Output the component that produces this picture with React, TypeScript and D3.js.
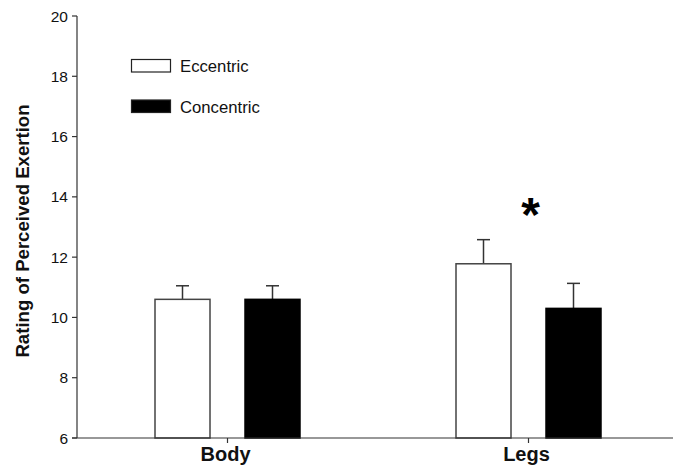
import React from "react";
import * as d3 from "d3";

const categories = ["Body", "Legs"];
const seriesNames = ["Eccentric", "Concentric"];
const eccentric = [10.6, 11.78];
const eccentricErr = [0.45, 0.8];
const concentric = [10.6, 10.3];
const concentricErr = [0.45, 0.83];
const yTicks = [6, 8, 10, 12, 14, 16, 18, 20];
const significant = [false, true];

export default function App() {
  const W = 673, H = 466;
  const left = 77, right = 673, top = 16, bottom = 438;
  const y = d3.scaleLinear().domain([6, 20]).range([bottom, top]);
  const centers = [227.5, 528.5];
  const cx = d3.scaleOrdinal<string, number>().domain(categories).range(centers);
  const barW = 55, gap = 35;
  const series = [
    { name: seriesNames[0], vals: eccentric, errs: eccentricErr, fill: "#fff", offset: -(gap / 2 + barW) },
    { name: seriesNames[1], vals: concentric, errs: concentricErr, fill: "#000", offset: gap / 2 },
  ];
  const font = "'Liberation Sans', Arial, sans-serif";
  return (
    <svg width={W} height={H} style={{ position: "absolute", left: 0, top: 0, background: "#fff" }} fontFamily={font}>
      {series.map((s, si) =>
        categories.map((c, ci) => {
          const bx = cx(c) + s.offset;
          const v = s.vals[ci];
          const e = s.errs[ci];
          const bmid = bx + barW / 2;
          return (
            <g key={`${si}-${ci}`}>
              <line x1={bmid} x2={bmid} y1={y(v)} y2={y(v + e)} stroke="#333" strokeWidth={1.5} />
              <line x1={bmid - 6.5} x2={bmid + 6.5} y1={y(v + e)} y2={y(v + e)} stroke="#333" strokeWidth={1.5} />
              <rect x={bx} y={y(v)} width={barW} height={bottom - y(v)} fill={s.fill} stroke={si === 0 ? "#444" : "#000"} strokeWidth={1.5} />
            </g>
          );
        })
      )}
      {categories.map((c, ci) =>
        significant[ci] ? (
          <text key={c} x={cx(c) + 2} y={231} textAnchor="middle" fontSize={48} fontWeight="bold">*</text>
        ) : null
      )}
      <line x1={left} x2={left} y1={top} y2={bottom} stroke="#333" strokeWidth={1.2} />
      {yTicks.map((t) => (
        <g key={t}>
          <line x1={left - 5} x2={left} y1={y(t)} y2={y(t)} stroke="#333" strokeWidth={1.2} />
          <text x={left - 9} y={y(t) + 5.5} textAnchor="end" fontSize={15.5} fill="#111">{t}</text>
        </g>
      ))}
      <line x1={left - 5} x2={right} y1={bottom} y2={bottom} stroke="#333" strokeWidth={1.2} />
      {categories.map((c) => (
        <g key={c}>
          <line x1={cx(c)} x2={cx(c)} y1={bottom} y2={bottom + 5} stroke="#333" strokeWidth={1.2} />
          <text x={cx(c) - 2} y={461} textAnchor="middle" fontSize={20} fontWeight="bold" fill="#111">{c}</text>
        </g>
      ))}
      <text transform="translate(29,231) rotate(-90)" textAnchor="middle" fontSize={18.6} fontWeight="bold" fill="#111">
        Rating of Perceived Exertion
      </text>
      {series.map((s, i) => (
        <g key={s.name}>
          <rect x={131.5} y={59.5 + i * 40.5} width={39} height={12.5} fill={s.fill} stroke="#222" strokeWidth={1.2} />
          <text x={180} y={72 + i * 40.5} fontSize={16.7} fill="#111">{s.name}</text>
        </g>
      ))}
    </svg>
  );
}
